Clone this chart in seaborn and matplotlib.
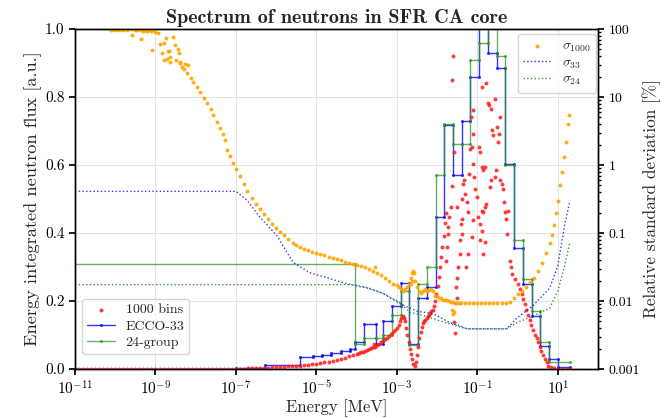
import numpy as np
import pandas as pd
import seaborn as sns
import matplotlib
matplotlib.use("Agg")
import matplotlib.pyplot as plt
from matplotlib.ticker import FixedLocator, NullLocator, FuncFormatter, LogLocator, LogFormatterSciNotation

# ---------------- data ----------------
# ECCO-33 group boundaries [MeV] (ascending) and group-integrated flux
ecco_bounds = [1e-11, 1e-7, 5.4e-7, 4e-6, 8.315e-6, 1.371e-5, 2.26e-5, 4.017e-5, 6.79e-5, 9.166e-5,
               1.486e-4, 3.043e-4, 4.54e-4, 7.485e-4, 1.234e-3, 2.035e-3, 3.355e-3, 5.531e-3, 9.119e-3,
               1.503e-2, 2.479e-2, 4.087e-2, 6.738e-2, 0.1111, 0.1832, 0.302, 0.4979, 0.8209, 1.353,
               2.231, 3.679, 6.065, 10.0, 19.64]
ecco_flux = [0.0, 0.002, 0.012, 0.035, 0.037, 0.041, 0.048, 0.052, 0.06, 0.08,
             0.133, 0.075, 0.14, 0.186, 0.254, 0.073, 0.21, 0.24, 0.446, 0.717,
             0.57, 0.73, 0.86, 1.05, 0.93, 0.884, 0.604, 0.357, 0.25, 0.156,
             0.068, 0.03, 0.005]

# 24-group boundaries [MeV] and flux
g24_bounds = [1e-11, 9.166e-5, 1.486e-4, 3.043e-4, 4.54e-4, 7.485e-4, 1.234e-3, 2.035e-3, 3.355e-3,
              5.531e-3, 9.119e-3, 1.503e-2, 2.479e-2, 4.087e-2, 6.738e-2, 0.1111, 0.1832, 0.302,
              0.4979, 0.8209, 1.353, 2.231, 3.679, 6.065, 19.64]
g24_flux = [0.31, 0.074, 0.09, 0.09, 0.10, 0.16, 0.23, 0.07, 0.25, 0.30,
            0.57, 0.72, 0.663, 0.663, 0.91, 0.96, 1.05, 0.92, 0.6, 0.38,
            0.264, 0.17, 0.08, 0.02]

# 1000-bin flux (red points): log10(E/MeV) and flux
red_log10E = [
    -11.0, -10.9, -10.8, -10.7, -10.6, -10.5, -10.4, -10.3, -10.2, -10.1, -10.0, -9.9, -9.8, -9.7, -9.6,
    -9.5, -9.4, -9.3, -9.2, -9.1, -9.0, -8.9, -8.8, -8.7, -8.6, -8.5, -8.4, -8.3, -8.2, -8.1, -8.0,
    -7.9, -7.8, -7.7, -7.6, -7.5, -7.4, -7.3, -7.2, -7.1,
    -7.0, -6.9, -6.8, -6.7, -6.6, -6.5, -6.4, -6.3, -6.2, -6.1, -6.0, -5.9, -5.8, -5.7, -5.6, -5.5,
    -5.4, -5.3, -5.2, -5.1, -5.0, -4.9, -4.8, -4.7, -4.6, -4.5, -4.4, -4.3, -4.2, -4.1, -4.0, -3.95,
    -3.9, -3.85, -3.8, -3.75, -3.7, -3.65, -3.6, -3.57, -3.55, -3.5, -3.45, -3.4, -3.35, -3.3, -3.25,
    -3.2, -3.15, -3.1, -3.05, -3.0, -2.95, -2.92, -2.89, -2.86, -2.83, -2.8, -2.77, -2.74, -2.71,
    -2.68, -2.65, -2.62, -2.59, -2.56, -2.53, -2.5, -2.47, -2.44, -2.41, -2.38, -2.35, -2.32, -2.29,
    -2.26, -2.23, -2.2, -2.17, -2.14, -2.11, -2.08, -2.05, -2.02, -1.99, -1.96, -1.93, -1.9, -1.87,
    -1.84, -1.81, -1.78,
    -1.616, -1.625, -1.575, -1.641, -1.699, -1.740, -1.765, -1.790, -1.724, -1.666, -1.517, -1.409,
    -1.393, -1.376, -1.352, -1.327, -1.310, -1.269, -1.228, -1.203, -1.186, -1.170, -1.120, -1.103,
    -1.145, -1.103, -1.079, -1.062, -1.021, -0.979, -0.938, -0.897, -0.955, -0.938, -0.897, -0.872,
    -0.814, -0.897, -0.773, -0.731, -0.706, -0.649, -0.624, -0.607, -0.566, -0.508, -0.483, -0.458,
    -0.442, -0.442, -0.400, -0.359, -0.343, -0.318, -0.276, -0.252, -0.235, -0.525, -0.566, -0.649,
    -0.690, -0.773, -0.814, -0.872, -0.897, -0.938, -0.855, -0.814, -1.103, -1.145, -1.228, -1.285,
    -1.434, -1.476, -1.517, -1.534, -1.434, -1.393, -1.517, -1.583, -1.558,
    -0.19, -0.17, -0.13, -0.07, 0.01, 0.05, 0.10, 0.14, 0.18, 0.22, 0.26, 0.30, 0.34, 0.38, 0.43,
    0.47, 0.51, 0.55, 0.59, 0.63, 0.68, 0.72, 0.76, 0.82, 0.90, 1.0, 1.1, 1.2, 1.29]
red_flux = [
    0.0, 0.0, 0.0, 0.0, 0.0, 0.0, 0.0, 0.0, 0.0, 0.0, 0.0, 0.0, 0.0, 0.0, 0.0,
    0.0, 0.0, 0.0, 0.0, 0.0, 0.0, 0.0, 0.0, 0.0, 0.0, 0.0, 0.0, 0.0, 0.0, 0.0, 0.0,
    0.0, 0.0, 0.0, 0.0, 0.0, 0.0, 0.0, 0.0, 0.0,
    0.000, 0.001, 0.001, 0.002, 0.002, 0.003, 0.003, 0.004, 0.004, 0.005, 0.005, 0.006, 0.007, 0.008,
    0.008, 0.009, 0.010, 0.011, 0.013, 0.014, 0.016, 0.018, 0.020, 0.022, 0.024, 0.027, 0.030, 0.033,
    0.037, 0.040, 0.044, 0.046, 0.049, 0.051, 0.054, 0.056, 0.059, 0.062, 0.066, 0.075, 0.064, 0.070,
    0.074, 0.078, 0.082, 0.087, 0.092, 0.097, 0.104, 0.110, 0.115, 0.120, 0.130, 0.140, 0.150, 0.155,
    0.150, 0.140, 0.120, 0.100, 0.080, 0.060, 0.045, 0.030, 0.015, 0.008, 0.020, 0.040, 0.065, 0.090,
    0.110, 0.125, 0.135, 0.140, 0.145, 0.150, 0.155, 0.160, 0.165, 0.170, 0.175, 0.185, 0.200, 0.220,
    0.245, 0.270, 0.300, 0.330, 0.360, 0.390, 0.430, 0.460,
    0.920, 0.850, 0.638, 0.537, 0.446, 0.397, 0.358, 0.319, 0.417, 0.476, 0.476, 0.427,
    0.441, 0.500, 0.545, 0.555, 0.515, 0.491, 0.461, 0.574, 0.648, 0.741, 0.761, 0.692,
    0.653, 0.604, 0.564, 0.530, 0.505, 0.446, 0.427, 0.466, 0.653, 0.638, 0.594, 0.584,
    0.594, 0.830, 0.840, 0.781, 0.776, 0.766, 0.702, 0.687, 0.795, 0.712, 0.668, 0.692,
    0.741, 0.555, 0.545, 0.530, 0.491, 0.461, 0.441, 0.397, 0.466, 0.584, 0.564, 0.555,
    0.535, 0.486, 0.476, 0.461, 0.407, 0.378, 0.338, 0.373, 0.437, 0.387, 0.338, 0.299,
    0.338, 0.299, 0.269, 0.240, 0.378, 0.397, 0.210, 0.137, 0.107,
    0.319, 0.299, 0.279, 0.264, 0.250, 0.235, 0.220, 0.205, 0.190, 0.175, 0.160, 0.145, 0.130, 0.115,
    0.100, 0.090, 0.078, 0.065, 0.053, 0.040, 0.029, 0.020, 0.010, 0.005, 0.002, 0.001, 0.0, 0.0, 0.0]

# 1000-bin relative standard deviation [%] (orange points)
sig1000_log10E = [
    -10.1, -10.05, -10.0, -9.95, -9.9, -9.85, -9.8, -9.7, -9.6, -9.5, -9.45, -9.4, -9.35, -9.3, -9.25,
    -9.2, -9.15, -9.1, -9.05, -9.0,
    -9.58, -9.37, -9.08, -8.88, -8.73, -8.56, -8.51, -8.45, -8.84, -8.80, -8.71, -8.63, -8.67, -8.42,
    -8.38, -8.34, -8.26, -8.18,
    -8.95, -8.8, -8.7, -8.63, -8.5, -8.38, -8.3, -8.21, -8.13, -8.06, -7.97, -7.886, -7.8, -7.71,
    -7.63, -7.56, -7.47, -7.39, -7.33, -7.27, -7.22, -7.15, -7.07, -7.0, -6.9, -6.8, -6.72, -6.6,
    -6.5, -6.4, -6.3, -6.2, -6.1, -6.0, -5.9, -5.8, -5.7, -5.58, -5.5, -5.4, -5.3, -5.2, -5.1, -5.0,
    -4.9, -4.8, -4.7, -4.6, -4.5, -4.4, -4.3, -4.2, -4.1, -4.0, -3.9, -3.8, -3.7, -3.6, -3.5, -3.4,
    -3.3, -3.2, -3.1, -3.0, -2.95, -2.9, -2.85, -2.8, -2.75, -2.7, -2.66, -2.62, -2.6, -2.58, -2.55,
    -2.5, -2.45, -2.4, -2.35, -2.3, -2.25, -2.2, -2.15, -2.1, -2.05, -2.0, -1.95, -1.9, -1.85, -1.8,
    -1.75, -1.7, -1.65, -1.6, -1.55, -1.5, -1.45, -1.4, -1.3, -1.2, -1.1, -1.0, -0.9, -0.8, -0.7,
    -0.6, -0.5, -0.4, -0.3, -0.2, -0.1, 0.0, 0.1, 0.2, 0.3, 0.4, 0.5, 0.6, 0.7, 0.8, 0.85, 0.9,
    0.95, 1.0, 1.05, 1.1, 1.15, 1.2, 1.25, 1.28,
    -1.62, -1.60, -1.58, -2.62, -2.64, -3.55]
sig1000 = [
    97, 99, 98, 99, 97, 99, 98, 97, 99, 96, 98, 99, 97, 95, 98,
    94, 97, 92, 96, 90,
    81, 71, 49, 60, 73, 76, 58, 51, 44.5, 35, 36, 33, 47, 44,
    33, 27.5, 31, 29.3,
    87, 62, 47, 38.6, 35, 31.6, 26, 22.4, 19, 16.5, 14, 11.8, 9.8, 8.1,
    6.6, 5.4, 4.3, 3.47, 2.9, 2.31, 1.64, 1.35, 1.06, 0.88, 0.70, 0.52, 0.42, 0.33,
    0.27, 0.229, 0.19, 0.16, 0.136, 0.118, 0.104, 0.092, 0.082, 0.072, 0.066, 0.062, 0.059, 0.056,
    0.053, 0.051, 0.049, 0.047, 0.045, 0.043, 0.041, 0.040, 0.038, 0.036, 0.035, 0.034, 0.033,
    0.032, 0.030, 0.028, 0.026, 0.024, 0.022, 0.020, 0.018, 0.017, 0.016, 0.015, 0.014, 0.015,
    0.016, 0.018, 0.022, 0.026, 0.028, 0.026, 0.020, 0.016, 0.014, 0.013, 0.014, 0.015, 0.014,
    0.0145, 0.015, 0.014, 0.012, 0.012, 0.011, 0.011, 0.0105, 0.0105, 0.0102, 0.0100, 0.0098,
    0.0096, 0.0094, 0.0093, 0.0092, 0.0092, 0.0092, 0.0092, 0.0092, 0.0092, 0.0092, 0.0092,
    0.0092, 0.0092, 0.0092, 0.0092, 0.0092, 0.0098, 0.011, 0.0125, 0.014, 0.016, 0.019, 0.022,
    0.028, 0.036, 0.050, 0.072, 0.095, 0.13, 0.20, 0.30, 0.50, 0.80, 1.3, 2.2, 4.0, 5.5,
    0.0075, 0.0065, 0.0070, 0.020, 0.018, 0.032]

# ECCO-33 relative standard deviation [%] (blue dotted)
sig33_log10E = [-11.0, -7.0, -6.72, -6.40, -5.98, -5.58, -5.16, -4.73, -4.34, -3.99, -3.74, -3.34,
                -2.92, -2.50, -2.10, -1.68, -1.43, -1.26, -0.27, -0.02, 0.38, 0.80, 1.0, 1.17, 1.29]
sig33 = [0.41, 0.41, 0.30, 0.17, 0.091, 0.037, 0.026, 0.022, 0.0186, 0.0166, 0.0155, 0.0129,
         0.0091, 0.0071, 0.0065, 0.0048, 0.0043, 0.0039, 0.0039, 0.0056, 0.0085, 0.0155, 0.033,
         0.13, 0.28]

# 24-group relative standard deviation [%] (green dotted)
sig24_log10E = [-11.0, -4.04, -3.74, -3.34, -2.92, -2.68, -2.45, -2.10, -1.68, -1.26, -0.27, -0.02,
                0.38, 0.80, 1.0, 1.17, 1.29]
sig24 = [0.0174, 0.0174, 0.0158, 0.0129, 0.0095, 0.0068, 0.0064, 0.0055, 0.0046, 0.0039, 0.0039,
         0.0048, 0.006, 0.0079, 0.014, 0.033, 0.069]

# ---------------- style ----------------
sns.set_theme(style="ticks")
plt.rcParams.update({
    "font.family": ["cmr10", "DejaVu Serif"],
    "mathtext.fontset": "cm",
    "axes.formatter.use_mathtext": True,
    "axes.unicode_minus": False,
    "axes.edgecolor": "black",
    "axes.linewidth": 1.0,
    "xtick.color": "black",
    "ytick.color": "black",
    "xtick.major.size": 4,
    "ytick.major.size": 4,
    "ytick.minor.size": 2,
    "font.size": 11,
})

fig = plt.figure(figsize=(6.64, 4.18), dpi=100)
ax = fig.add_axes([0.1130, 0.1172, 0.7877, 0.8134])
ax2 = ax.twinx()


def step_frame(bounds, vals):
    xs, ys = [], []
    for i, v in enumerate(vals):
        xs += [bounds[i], bounds[i + 1]]
        ys += [v, v]
    return pd.DataFrame({"E": xs, "flux": ys})


red_df = pd.DataFrame({"E": 10 ** np.array(red_log10E), "flux": red_flux})
ecco_df = step_frame(ecco_bounds, ecco_flux)
g24_df = step_frame(g24_bounds, g24_flux)
s1000_df = pd.DataFrame({"E": 10 ** np.array(sig1000_log10E), "rsd": sig1000})
s33_df = pd.DataFrame({"E": 10 ** np.array(sig33_log10E), "rsd": sig33})
s24_df = pd.DataFrame({"E": 10 ** np.array(sig24_log10E), "rsd": sig24})

# left axis
sns.scatterplot(data=red_df, x="E", y="flux", ax=ax, color="#ff1a1a", s=8, linewidth=0,
                label="1000 bins", zorder=4, alpha=0.85)
sns.lineplot(data=ecco_df, x="E", y="flux", ax=ax, color="#1010ff", sort=False, estimator=None,
             marker="o", markersize=2.2, markeredgewidth=0, linewidth=1.0, alpha=0.85,
             label="ECCO-33", zorder=3)
sns.lineplot(data=g24_df, x="E", y="flux", ax=ax, color="#2a962a", sort=False, estimator=None,
             marker="o", markersize=2.2, markeredgewidth=0, linewidth=1.0, alpha=0.75,
             label="24-group", zorder=3)

# right axis
sns.scatterplot(data=s1000_df, x="E", y="rsd", ax=ax2, color="orange", s=8, linewidth=0,
                label=r"$\sigma_{1000}$", alpha=0.9)
sns.lineplot(data=s33_df, x="E", y="rsd", ax=ax2, color="blue", linestyle=":", linewidth=1.0,
             sort=False, estimator=None, label=r"$\sigma_{33}$", alpha=0.8)
sns.lineplot(data=s24_df, x="E", y="rsd", ax=ax2, color="green", linestyle=":", linewidth=1.0,
             sort=False, estimator=None, label=r"$\sigma_{24}$", alpha=0.8)

ax.set_xscale("log")
ax.set_xlim(1e-11, 1e2)
ax.set_ylim(0, 1)
ax.xaxis.set_major_locator(FixedLocator([1e-11, 1e-9, 1e-7, 1e-5, 1e-3, 1e-1, 1e1]))
ax.xaxis.set_major_formatter(LogFormatterSciNotation())
ax.xaxis.set_minor_locator(NullLocator())
ax.set_yticks([0, 0.2, 0.4, 0.6, 0.8, 1.0])
ax.set_yticklabels(["0.0", "0.2", "0.4", "0.6", "0.8", "1.0"])
ax.grid(True, color="#e3e3e3", linewidth=0.8)
ax.set_axisbelow(True)

ax2.set_yscale("log")
ax2.set_ylim(1e-3, 1e2)
ax2.yaxis.set_major_locator(FixedLocator([1e-3, 1e-2, 1e-1, 1, 10, 100]))
ax2.yaxis.set_major_formatter(FuncFormatter(lambda v, p: "%g" % v))
ax2.yaxis.set_minor_locator(LogLocator(base=10, subs=np.arange(2, 10) * 1.0, numticks=20))
ax2.grid(False)

ax.set_xlabel("Energy [MeV]", fontsize=12, labelpad=1)
ax.set_ylabel("Energy integrated neutron flux [a.u.]", fontsize=13.2, labelpad=2)
ax2.set_ylabel("Relative standard deviation [%]", fontsize=12.4, labelpad=2)
ax.set_title("Spectrum of neutrons in SFR CA core", fontsize=14.5, fontfamily="cmb10", pad=4)

ax.tick_params(axis="both", labelsize=11)
ax2.tick_params(axis="y", labelsize=10)

ax.legend(loc="lower left", bbox_to_anchor=(0.0, 0.025), fontsize=10, framealpha=0.8,
          edgecolor="#cccccc", fancybox=True, labelspacing=0.25, borderpad=0.35)
ax2.legend(loc="upper right", bbox_to_anchor=(0.997, 0.985), borderaxespad=0.0, fontsize=10,
           framealpha=0.8, edgecolor="#cccccc", fancybox=True, labelspacing=0.2, borderpad=0.4)

fig.savefig("out.png", dpi=100)
